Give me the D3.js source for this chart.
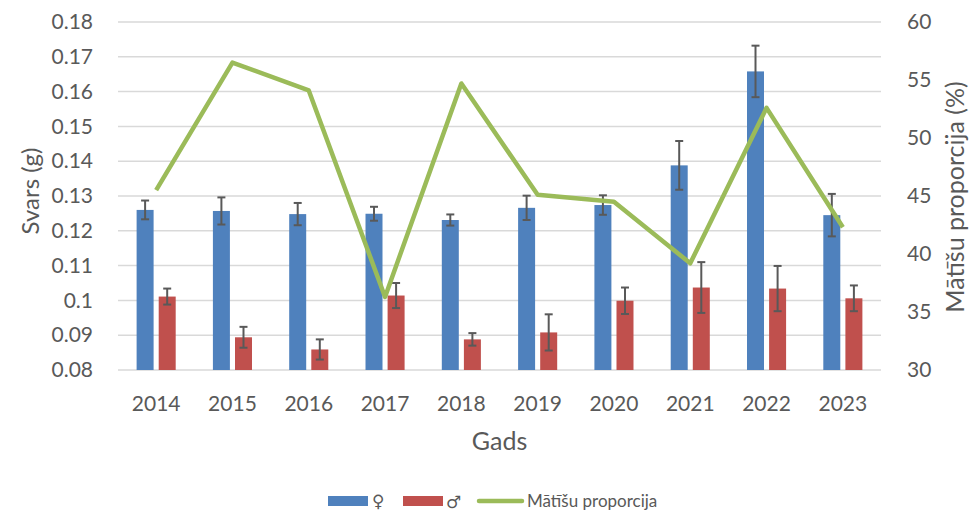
<!DOCTYPE html>
<html>
<head>
<meta charset="utf-8">
<script src="https://cdn.jsdelivr.net/npm/d3@7"></script>
<style>
  body { margin: 0; background: #fff; }
  text { font-family: Lato, "Open Sans", sans-serif; fill: #595959; }
</style>
</head>
<body>
<svg id="canvas"></svg>
<script>
const years = ["2014", "2015", "2016", "2017", "2018", "2019", "2020", "2021", "2022", "2023"];
const female = [0.1260, 0.1257, 0.1248, 0.1249, 0.1231, 0.1266, 0.1274, 0.1388, 0.1658, 0.1245];
const femaleErr = [0.0027, 0.0039, 0.0032, 0.0020, 0.0016, 0.0035, 0.0028, 0.0070, 0.0074, 0.0061];
const male = [0.1011, 0.0894, 0.0859, 0.1014, 0.0888, 0.0908, 0.0999, 0.1037, 0.1034, 0.1006];
const maleErr = [0.0023, 0.0030, 0.0029, 0.0036, 0.0018, 0.0052, 0.0038, 0.0073, 0.0065, 0.0037];
const femaleShare = [45.5, 56.5, 54.1, 36.3, 54.7, 45.1, 44.5, 39.2, 52.6, 42.3];
const leftTicks = [0.08, 0.09, 0.1, 0.11, 0.12, 0.13, 0.14, 0.15, 0.16, 0.17, 0.18];
const rightTicks = [30, 35, 40, 45, 50, 55, 60];

const width = 972, height = 511;
const plotL = 118, plotR = 881, plotT = 22, plotB = 370;

/* Sets up svg */
const svg = d3.select("#canvas")
    .attr("width", width)
    .attr("height", height);

const x = d3.scaleBand().domain(years).range([plotL, plotR]);
const y = d3.scaleLinear().domain([0.08, 0.18]).range([plotB, plotT]);
const y2 = d3.scaleLinear().domain([30, 60]).range([plotB, plotT]);

const barW = x.bandwidth() / 4.49;
const sep = barW * 0.3;

/* Gridlines */
svg.append("g")
    .selectAll("line")
    .data(leftTicks)
    .enter()
    .append("line")
    .attr("x1", plotL)
    .attr("x2", plotR)
    .attr("y1", d => y(d))
    .attr("y2", d => y(d))
    .attr("stroke", "#d9d9d9")
    .attr("stroke-width", 1.5);

/* Left axis */
const leftAxis = svg.append("g")
    .attr("transform", `translate(${plotL},0)`)
    .call(d3.axisLeft(y).tickValues(leftTicks).tickFormat(d => String(+d.toFixed(2))).tickSize(0).tickPadding(25));
leftAxis.select(".domain").remove();
leftAxis.selectAll("text").style("font-size", "21px").attr("fill", "#595959");

/* Right axis */
const rightAxis = svg.append("g")
    .attr("transform", `translate(${plotR},0)`)
    .call(d3.axisRight(y2).tickValues(rightTicks).tickSize(0).tickPadding(26));
rightAxis.select(".domain").remove();
rightAxis.selectAll("text").style("font-size", "21px").attr("fill", "#595959");

/* Bottom axis */
const bottomAxis = svg.append("g")
    .attr("transform", `translate(0,${plotB})`)
    .call(d3.axisBottom(x).tickSize(0).tickPadding(26));
bottomAxis.select(".domain").remove();
bottomAxis.selectAll("text").style("font-size", "21px").attr("fill", "#595959");

/* Bars */
const cx = d => x(d) + x.bandwidth() / 2;

svg.append("g")
    .selectAll("rect")
    .data(years)
    .enter()
    .append("rect")
    .attr("x", d => cx(d) - sep / 2 - barW)
    .attr("y", (d, i) => y(female[i]))
    .attr("width", barW)
    .attr("height", (d, i) => plotB - y(female[i]))
    .attr("fill", "#4f81bd");

svg.append("g")
    .selectAll("rect")
    .data(years)
    .enter()
    .append("rect")
    .attr("x", d => cx(d) + sep / 2)
    .attr("y", (d, i) => y(male[i]))
    .attr("width", barW)
    .attr("height", (d, i) => plotB - y(male[i]))
    .attr("fill", "#c0504d");

/* Error bars */
function errorBars(vals, errs, offset) {
    const g = svg.append("g").attr("stroke", "#595959").attr("stroke-width", 2);
    years.forEach((yr, i) => {
        const ex = cx(yr) + offset;
        const hi = y(vals[i] + errs[i]), lo = y(vals[i] - errs[i]);
        g.append("line").attr("x1", ex).attr("x2", ex).attr("y1", hi).attr("y2", lo);
        g.append("line").attr("x1", ex - 4).attr("x2", ex + 4).attr("y1", hi).attr("y2", hi);
        g.append("line").attr("x1", ex - 4).attr("x2", ex + 4).attr("y1", lo).attr("y2", lo);
    });
}
errorBars(female, femaleErr, -sep / 2 - barW / 2);
errorBars(male, maleErr, sep / 2 + barW / 2);

/* Line */
const line = d3.line()
    .x(d => cx(d))
    .y((d, i) => y2(femaleShare[i]));

svg.append("path")
    .datum(years)
    .attr("d", line)
    .attr("fill", "none")
    .attr("stroke", "#9bbb59")
    .attr("stroke-width", 4.5)
    .attr("stroke-linejoin", "round");

/* Axis titles */
svg.append("text")
    .attr("x", (plotL + plotR) / 2)
    .attr("y", 450)
    .attr("text-anchor", "middle")
    .style("font-size", "25px")
    .text("Gads");

svg.append("text")
    .attr("transform", "translate(39,191) rotate(-90)")
    .attr("text-anchor", "middle")
    .style("font-size", "24px")
    .text("Svars (g)");

svg.append("text")
    .attr("transform", "translate(964,197) rotate(-90)")
    .attr("text-anchor", "middle")
    .style("font-size", "25px")
    .text("Mātīšu proporcija (%)");

/* Legend */
const legend = svg.append("g").style("font-size", "17px");
legend.append("rect").attr("x", 328).attr("y", 496).attr("width", 40).attr("height", 10).attr("fill", "#4f81bd");
legend.append("text").attr("x", 372).attr("y", 507).style("font-family", "'DejaVu Sans'").text("♀");
legend.append("rect").attr("x", 403).attr("y", 496).attr("width", 40).attr("height", 10).attr("fill", "#c0504d");
legend.append("text").attr("x", 446).attr("y", 508).style("font-family", "'DejaVu Sans'").text("♂");
legend.append("line").attr("x1", 479).attr("x2", 522).attr("y1", 501).attr("y2", 501)
    .attr("stroke", "#9bbb59").attr("stroke-width", 4.5).attr("stroke-linecap", "round");
legend.append("text").attr("x", 527).attr("y", 507).text("Mātīšu proporcija");
</script>
</body>
</html>
